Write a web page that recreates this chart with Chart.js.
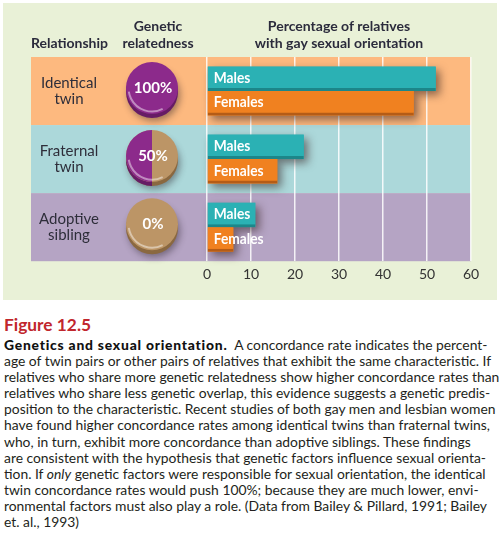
<!DOCTYPE html>
<html><head><meta charset="utf-8">
<script src="https://cdn.jsdelivr.net/npm/chart.js@4.4.1/dist/chart.umd.min.js"></script>
<style>
html,body{margin:0;padding:0;background:#fff;}
body{width:500px;height:542px;position:relative;overflow:hidden;font-family:Lato, sans-serif;}
#panel{position:absolute;left:3px;top:3px;width:494px;height:297px;background:#e9f1d7;}
#chartwrap{position:absolute;left:0;top:0;width:500px;height:300px;}
#fig{position:absolute;left:4px;top:315px;color:#c1272d;font-weight:bold;font-size:17px;line-height:20px;white-space:nowrap;}
#cap{position:absolute;left:4px;top:337px;color:#231f20;line-height:16.1px;white-space:nowrap;}
#cap b{color:#111;font-weight:900;}
</style></head>
<body>
<div id="panel"></div>
<div id="chartwrap"><canvas id="c" width="500" height="300"></canvas></div>
<div id="fig">Figure 12.5</div>
<div id="cap"></div>
<script>
// ---- data ----
const categories = ['Identical twin', 'Fraternal twin', 'Adoptive sibling'];
const categoryLines = [['Identical', 'twin'], ['Fraternal', 'twin'], ['Adoptive', 'sibling']];
const relatedness = [100, 50, 0];
const seriesNames = ['Males', 'Females'];
const males = [52, 22, 11];
const females = [47, 16, 6];
const xTicks = [0, 10, 20, 30, 40, 50, 60];
const headerRelationship = 'Relationship';
const headerGenetic = ['Genetic', 'relatedness'];
const headerPercent = ['Percentage of relatives', 'with gay sexual orientation'];

const captionLines = [
  '<b>Genetics and sexual orientation.</b>&nbsp; A concordance rate indicates the percent-',
  'age of twin pairs or other pairs of relatives that exhibit the same characteristic. If',
  'relatives who share more genetic relatedness show higher concordance rates than',
  'relatives who share less genetic overlap, this evidence suggests a genetic predis-',
  'position to the characteristic. Recent studies of both gay men and lesbian women',
  'have found higher concordance rates among identical twins than fraternal twins,',
  'who, in turn, exhibit more concordance than adoptive siblings. These findings',
  'are consistent with the hypothesis that genetic factors influence sexual orienta-',
  'tion. If <i>only</i> genetic factors were responsible for sexual orientation, the identical',
  'twin concordance rates would push 100%; because they are much lower, envi-',
  'ronmental factors must also play a role. (Data from Bailey &amp; Pillard, 1991; Bailey',
  'et. al., 1993)'
];

// ---- styles ----
const FONT = 'Lato';
const bandColors = ['#fdb97f', '#acd8da', '#b5a4c4'];
const barColors = ['#2bb1b4', '#f08120'];
const barEdge = ['#1c8689', '#b55c16'];
const faceOn = '#8c2a8b', rimOn = '#661c65';
const faceOff = '#bc9566', rimOff = '#8a6840';
const textDark = '#2b2b3c';

// caption
const capEl = document.getElementById('cap');
capEl.innerHTML = captionLines.map(l => '<div>' + l + '</div>').join('');
(function fit() {
  const m = document.createElement('canvas').getContext('2d');
  let size = 13;
  for (let i = 0; i < 30; i++) {
    m.font = size + 'px ' + FONT;
    const w = m.measureText('relatives who share less genetic overlap, this evidence suggests a genetic predis-').width;
    size = size * 486 / w;
  }
  capEl.style.fontSize = size.toFixed(2) + 'px';
  const b = capEl.querySelector('b');
  m.font = '900 ' + size.toFixed(2) + 'px ' + FONT;
  const bt = 'Genetics and sexual orientation.';
  const bw = m.measureText(bt).width;
  b.style.letterSpacing = ((224 - bw) / bt.length).toFixed(3) + 'px';
  let fs = 17;
  for (let i = 0; i < 30; i++) {
    m.font = 'bold ' + fs + 'px ' + FONT;
    const w = m.measureText('Figure 12.5').width;
    fs = fs * 87 / w;
  }
  document.getElementById('fig').style.fontSize = fs.toFixed(2) + 'px';
})();

const bandPlugin = {
  id: 'bands',
  beforeDraw(chart) {
    const ctx = chart.ctx, ca = chart.chartArea, y = chart.scales.y;
    const h = (ca.bottom - ca.top) / categories.length;
    ctx.save();
    categories.forEach((c, i) => {
      const cy = y.getPixelForValue(i);
      ctx.fillStyle = bandColors[i];
      ctx.fillRect(31, cy - h / 2, ca.right - 31, h);
    });
    ctx.restore();
  },
  afterDraw(chart) {
    const ctx = chart.ctx, y = chart.scales.y, ca = chart.chartArea;
    ctx.save();
    ctx.fillStyle = textDark;
    ctx.textBaseline = 'middle';
    ctx.font = 'bold 14px ' + FONT;
    ctx.textAlign = 'left';
    ctx.fillText(headerRelationship, 31, 43);
    ctx.textAlign = 'center';
    ctx.fillText(headerGenetic[0], 158, 26);
    ctx.fillText(headerGenetic[1], 158, 43);
    const pc = (ca.left + ca.right) / 2;
    ctx.fillText(headerPercent[0], pc, 26);
    ctx.fillText(headerPercent[1], pc, 43);
    // row labels
    ctx.font = '15px ' + FONT;
    ctx.fillStyle = '#2e2e3a';
    categoryLines.forEach((ls, i) => {
      const cy = y.getPixelForValue(i);
      ctx.fillText(ls[0], 69, cy - 8);
      ctx.fillText(ls[1], 69, cy + 8);
    });
    // relatedness discs
    relatedness.forEach((v, i) => {
      const cx = 152, cy = y.getPixelForValue(i) - 3, r = 26;
      const frac = v / 100;
      const start = -Math.PI / 2, end = start - frac * 2 * Math.PI;
      ctx.save();
      ctx.shadowColor = 'rgba(40,30,40,0.45)';
      ctx.shadowBlur = 7; ctx.shadowOffsetX = 2; ctx.shadowOffsetY = 3;
      ctx.beginPath(); ctx.arc(cx, cy + 4, r, 0, 2 * Math.PI);
      ctx.fillStyle = frac > 0.99 ? rimOn : rimOff; ctx.fill();
      ctx.restore();
      if (frac > 0 && frac < 1) {
        ctx.beginPath(); ctx.moveTo(cx, cy + 4);
        ctx.arc(cx, cy + 4, r, start, end, true); ctx.closePath();
        ctx.fillStyle = rimOn; ctx.fill();
      }
      ctx.beginPath(); ctx.arc(cx, cy, r, 0, 2 * Math.PI);
      ctx.fillStyle = frac > 0.99 ? faceOn : faceOff; ctx.fill();
      if (frac > 0 && frac < 1) {
        ctx.beginPath(); ctx.moveTo(cx, cy);
        ctx.arc(cx, cy, r, start, end, true); ctx.closePath();
        ctx.fillStyle = faceOn; ctx.fill();
      }
      ctx.beginPath(); ctx.arc(cx, cy, r - 2.5, Math.PI * 0.35, Math.PI * 0.95);
      ctx.strokeStyle = 'rgba(255,255,255,0.45)'; ctx.lineWidth = 2; ctx.stroke();
      ctx.fillStyle = '#ffffff';
      ctx.font = 'bold 15px ' + FONT;
      ctx.textAlign = 'center';
      ctx.fillText(v + '%', cx + 1, cy);
    });
    ctx.restore();
  }
};

const shadowPlugin = {
  id: 'barShadow',
  beforeDatasetsDraw(chart) {
    const ctx = chart.ctx;
    ctx.save();
    ctx.shadowColor = 'rgba(50,30,30,0.55)';
    ctx.shadowBlur = 9; ctx.shadowOffsetX = 4; ctx.shadowOffsetY = 4;
    chart.data.datasets.forEach((ds, di) => {
      chart.getDatasetMeta(di).data.forEach(bar => {
        const p = bar.getProps(['x', 'y', 'base', 'height'], true);
        ctx.fillStyle = barColors[di];
        ctx.fillRect(p.base, p.y - p.height / 2, p.x - p.base, p.height);
      });
    });
    ctx.restore();
  },
  afterDatasetsDraw(chart) {
    const ctx = chart.ctx;
    ctx.save();
    ctx.fillStyle = '#ffffff';
    ctx.font = 'bold 16px ' + FONT;
    ctx.textAlign = 'left'; ctx.textBaseline = 'middle';
    chart.data.datasets.forEach((ds, di) => {
      chart.getDatasetMeta(di).data.forEach(bar => {
        const p = bar.getProps(['x', 'y', 'base', 'height'], true);
        ctx.save();
        ctx.translate(p.base + 6, p.y - 1);
        ctx.scale(0.86, 1);
        ctx.fillText(seriesNames[di], 0, 0);
        ctx.restore();
      });
    });
    ctx.restore();
  }
};

new Chart(document.getElementById('c').getContext('2d'), {
  type: 'bar',
  data: {
    labels: categories,
    datasets: [
      { label: seriesNames[0], data: males, backgroundColor: barColors[0], borderColor: barEdge[0],
        borderWidth: { top: 0, left: 0, right: 0, bottom: 3 }, borderSkipped: false,
        categoryPercentage: 0.72, barPercentage: 1 },
      { label: seriesNames[1], data: females, backgroundColor: barColors[1], borderColor: barEdge[1],
        borderWidth: { top: 0, left: 0, right: 0, bottom: 3 }, borderSkipped: false,
        categoryPercentage: 0.72, barPercentage: 1 }
    ]
  },
  options: {
    indexAxis: 'y',
    responsive: false,
    animation: false,
    layout: { padding: { left: 207, right: 29, top: 57, bottom: 12 } },
    plugins: { legend: { display: false }, tooltip: { enabled: false } },
    scales: {
      x: {
        min: 0, max: 60,
        afterBuildTicks(s) { s.ticks = xTicks.map(v => ({ value: v })); },
        ticks: { color: '#333', font: { family: FONT, size: 14 }, padding: 5 },
        grid: { color: 'rgba(255,255,255,0.85)', lineWidth: 1.5, drawTicks: false },
        border: { display: false }
      },
      y: { display: false }
    }
  },
  plugins: [bandPlugin, shadowPlugin]
});
</script>
</body></html>
